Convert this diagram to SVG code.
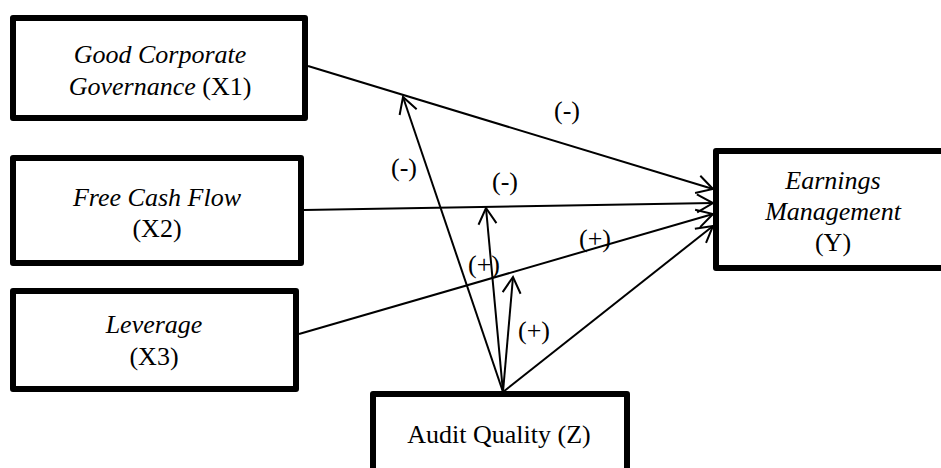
<svg xmlns="http://www.w3.org/2000/svg" width="941" height="468" viewBox="0 0 941 468">
<style>
.box{fill:#fff;stroke:#000;stroke-width:6;stroke-linejoin:round}
.t{font-family:"Liberation Serif","Times New Roman",serif;font-size:26px;fill:#000;text-anchor:middle}
.i{font-style:italic}
.ln{stroke:#000;stroke-width:2;fill:none}
</style>
<defs>
<marker id="arr" markerUnits="userSpaceOnUse" viewBox="0 0 16 18" refX="16" refY="9" markerWidth="16" markerHeight="18" orient="auto" overflow="visible">
<path d="M0,0 L16,9 L0,18" fill="none" stroke="#000" stroke-width="2"/>
</marker>
</defs>
<rect x="0" y="0" width="941" height="468" fill="#fff"/>
<g id="connectors">
<line class="ln" x1="308" y1="66" x2="713" y2="189" marker-end="url(#arr)"/>
<line class="ln" x1="304" y1="210" x2="713" y2="203" marker-end="url(#arr)"/>
<line class="ln" x1="299" y1="334" x2="713" y2="214" marker-end="url(#arr)"/>
<line class="ln" x1="503" y1="392" x2="713" y2="226" marker-end="url(#arr)"/>
<line class="ln" x1="503" y1="392" x2="403" y2="97" marker-end="url(#arr)"/>
<line class="ln" x1="503" y1="392" x2="486" y2="208" marker-end="url(#arr)"/>
<line class="ln" x1="503" y1="392" x2="513" y2="277" marker-end="url(#arr)"/>
<text class="t" x="567" y="119">(-)</text>
<text class="t" x="404" y="176">(-)</text>
<text class="t" x="505" y="190">(-)</text>
<text class="t" x="595" y="247">(+)</text>
<text class="t" x="484" y="273">(+)</text>
<text class="t" x="534" y="339">(+)</text>
</g>
<g id="x1">
<rect class="box" x="13" y="18" width="292" height="100"/>
<text class="t i" x="160" y="63">Good Corporate</text>
<text class="t" x="160" y="95"><tspan class="i">Governance</tspan> (X1)</text>
</g>
<g id="x2">
<rect class="box" x="13" y="158" width="288" height="105"/>
<text class="t i" x="157" y="206">Free Cash Flow</text>
<text class="t" x="157" y="237">(X2)</text>
</g>
<g id="x3">
<rect class="box" x="13" y="291" width="283" height="98"/>
<text class="t i" x="154" y="333">Leverage</text>
<text class="t" x="154" y="365">(X3)</text>
</g>
<g id="y">
<rect class="box" x="716" y="151" width="235" height="117"/>
<text class="t i" x="833" y="189">Earnings</text>
<text class="t i" x="833" y="220">Management</text>
<text class="t" x="833" y="251">(Y)</text>
</g>
<g id="z">
<rect class="box" x="373" y="394" width="254" height="90"/>
<text class="t" x="499" y="443">Audit Quality (Z)</text>
</g>
</svg>
